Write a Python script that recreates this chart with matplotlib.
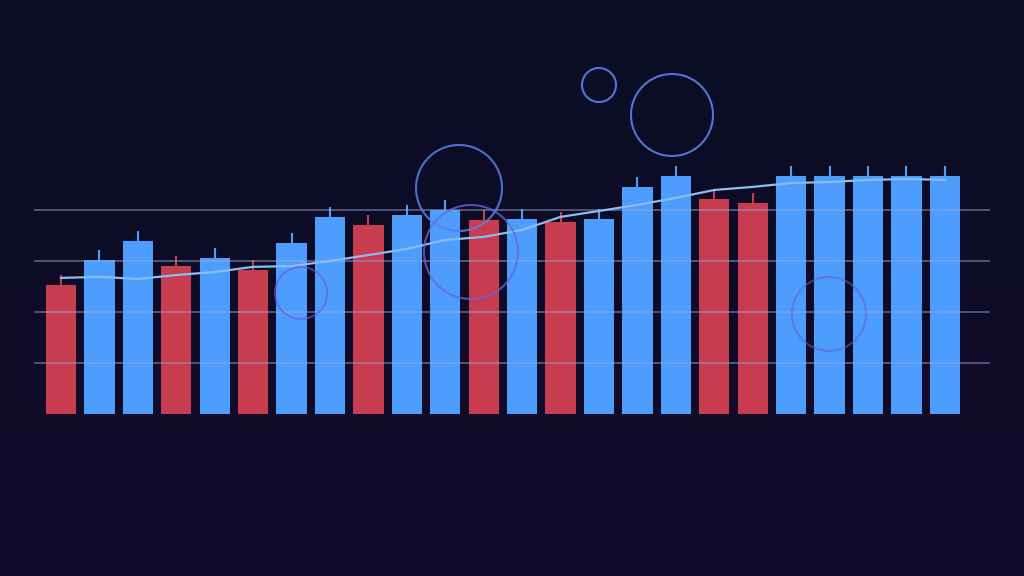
import numpy as np
import matplotlib
matplotlib.use('Agg')
import matplotlib.pyplot as plt
from matplotlib.patches import Circle
from matplotlib.transforms import IdentityTransform

# bar values (gridlines at 25/50/75/100)
values = [63.2, 75.5, 84.8, 72.5, 76.5, 70.6, 83.8, 96.6, 92.6, 97.5, 100.0, 95.1,
          95.6, 94.1, 95.6, 111.3, 116.7, 105.4, 103.4, 116.7, 116.7, 116.7, 116.7, 116.7]
errors = [4.9] * 24
trend = [66.7, 67.2, 66.2, 68.1, 69.6, 72.1, 72.5, 75.0, 77.9, 80.9, 85.3, 86.8,
         90.2, 96.6, 99.5, 102.5, 105.9, 109.8, 111.3, 113.2, 113.7, 114.7, 115.2, 114.7]
grid_levels = [25, 50, 75, 100]

# decorative rings, pixel coords (x, y from top, radius, color, alpha)
rings = [(599, 85, 17, '#5a80e6', 0.9),
         (672, 115, 41, '#5a80e6', 0.9),
         (459, 188, 43, '#5a80e6', 0.85),
         (471, 252, 47, '#6a66d8', 0.75),
         (301, 293, 26, '#6a5cd0', 0.6),
         (829, 314, 37, '#6a5cd0', 0.55)]

UP = '#4d9dff'
DOWN = '#c83c50'

x = np.arange(len(values))
colors = [DOWN] + [UP if values[i] >= values[i - 1] else DOWN for i in range(1, len(values))]

fig = plt.figure(figsize=(10.24, 5.76), dpi=100)

# background gradient
bg = fig.add_axes([0, 0, 1, 1], zorder=-10)
grad = np.linspace(0, 1, 256).reshape(-1, 1)
top = np.array([10, 14, 36]) / 255
bot = np.array([18, 10, 44]) / 255
img = top + (bot - top) * grad[..., None]
img = np.repeat(img, 2, axis=1)
bg.imshow(img, aspect='auto', extent=[0, 1, 0, 1])
bg.axis('off')

ax = fig.add_axes([0, 0, 1, 1])
ax.patch.set_alpha(0)
ax.set_xlim(-1.587, 25.06)
ax.set_ylim(-79.4, 202.9)
ax.axis('off')

ax.bar(x, values, width=0.79, color=colors, zorder=2)
ax.vlines(x, values, np.array(values) + np.array(errors), colors=colors, lw=1.5, zorder=2)

for g in grid_levels:
    ax.hlines(g, -0.70, 24.17, color='#9aa6d0', lw=1.1, alpha=0.6, zorder=3)

ax.plot(x, trend, color='#8bbcf2', lw=1.6, zorder=4)

for cx, cy, r, c, a in rings:
    fig.patches.append(Circle((cx, 576 - cy), r, transform=IdentityTransform(),
                              fill=False, ec=c, lw=1.5, alpha=a, zorder=5))

fig.savefig('out.png', dpi=100)
